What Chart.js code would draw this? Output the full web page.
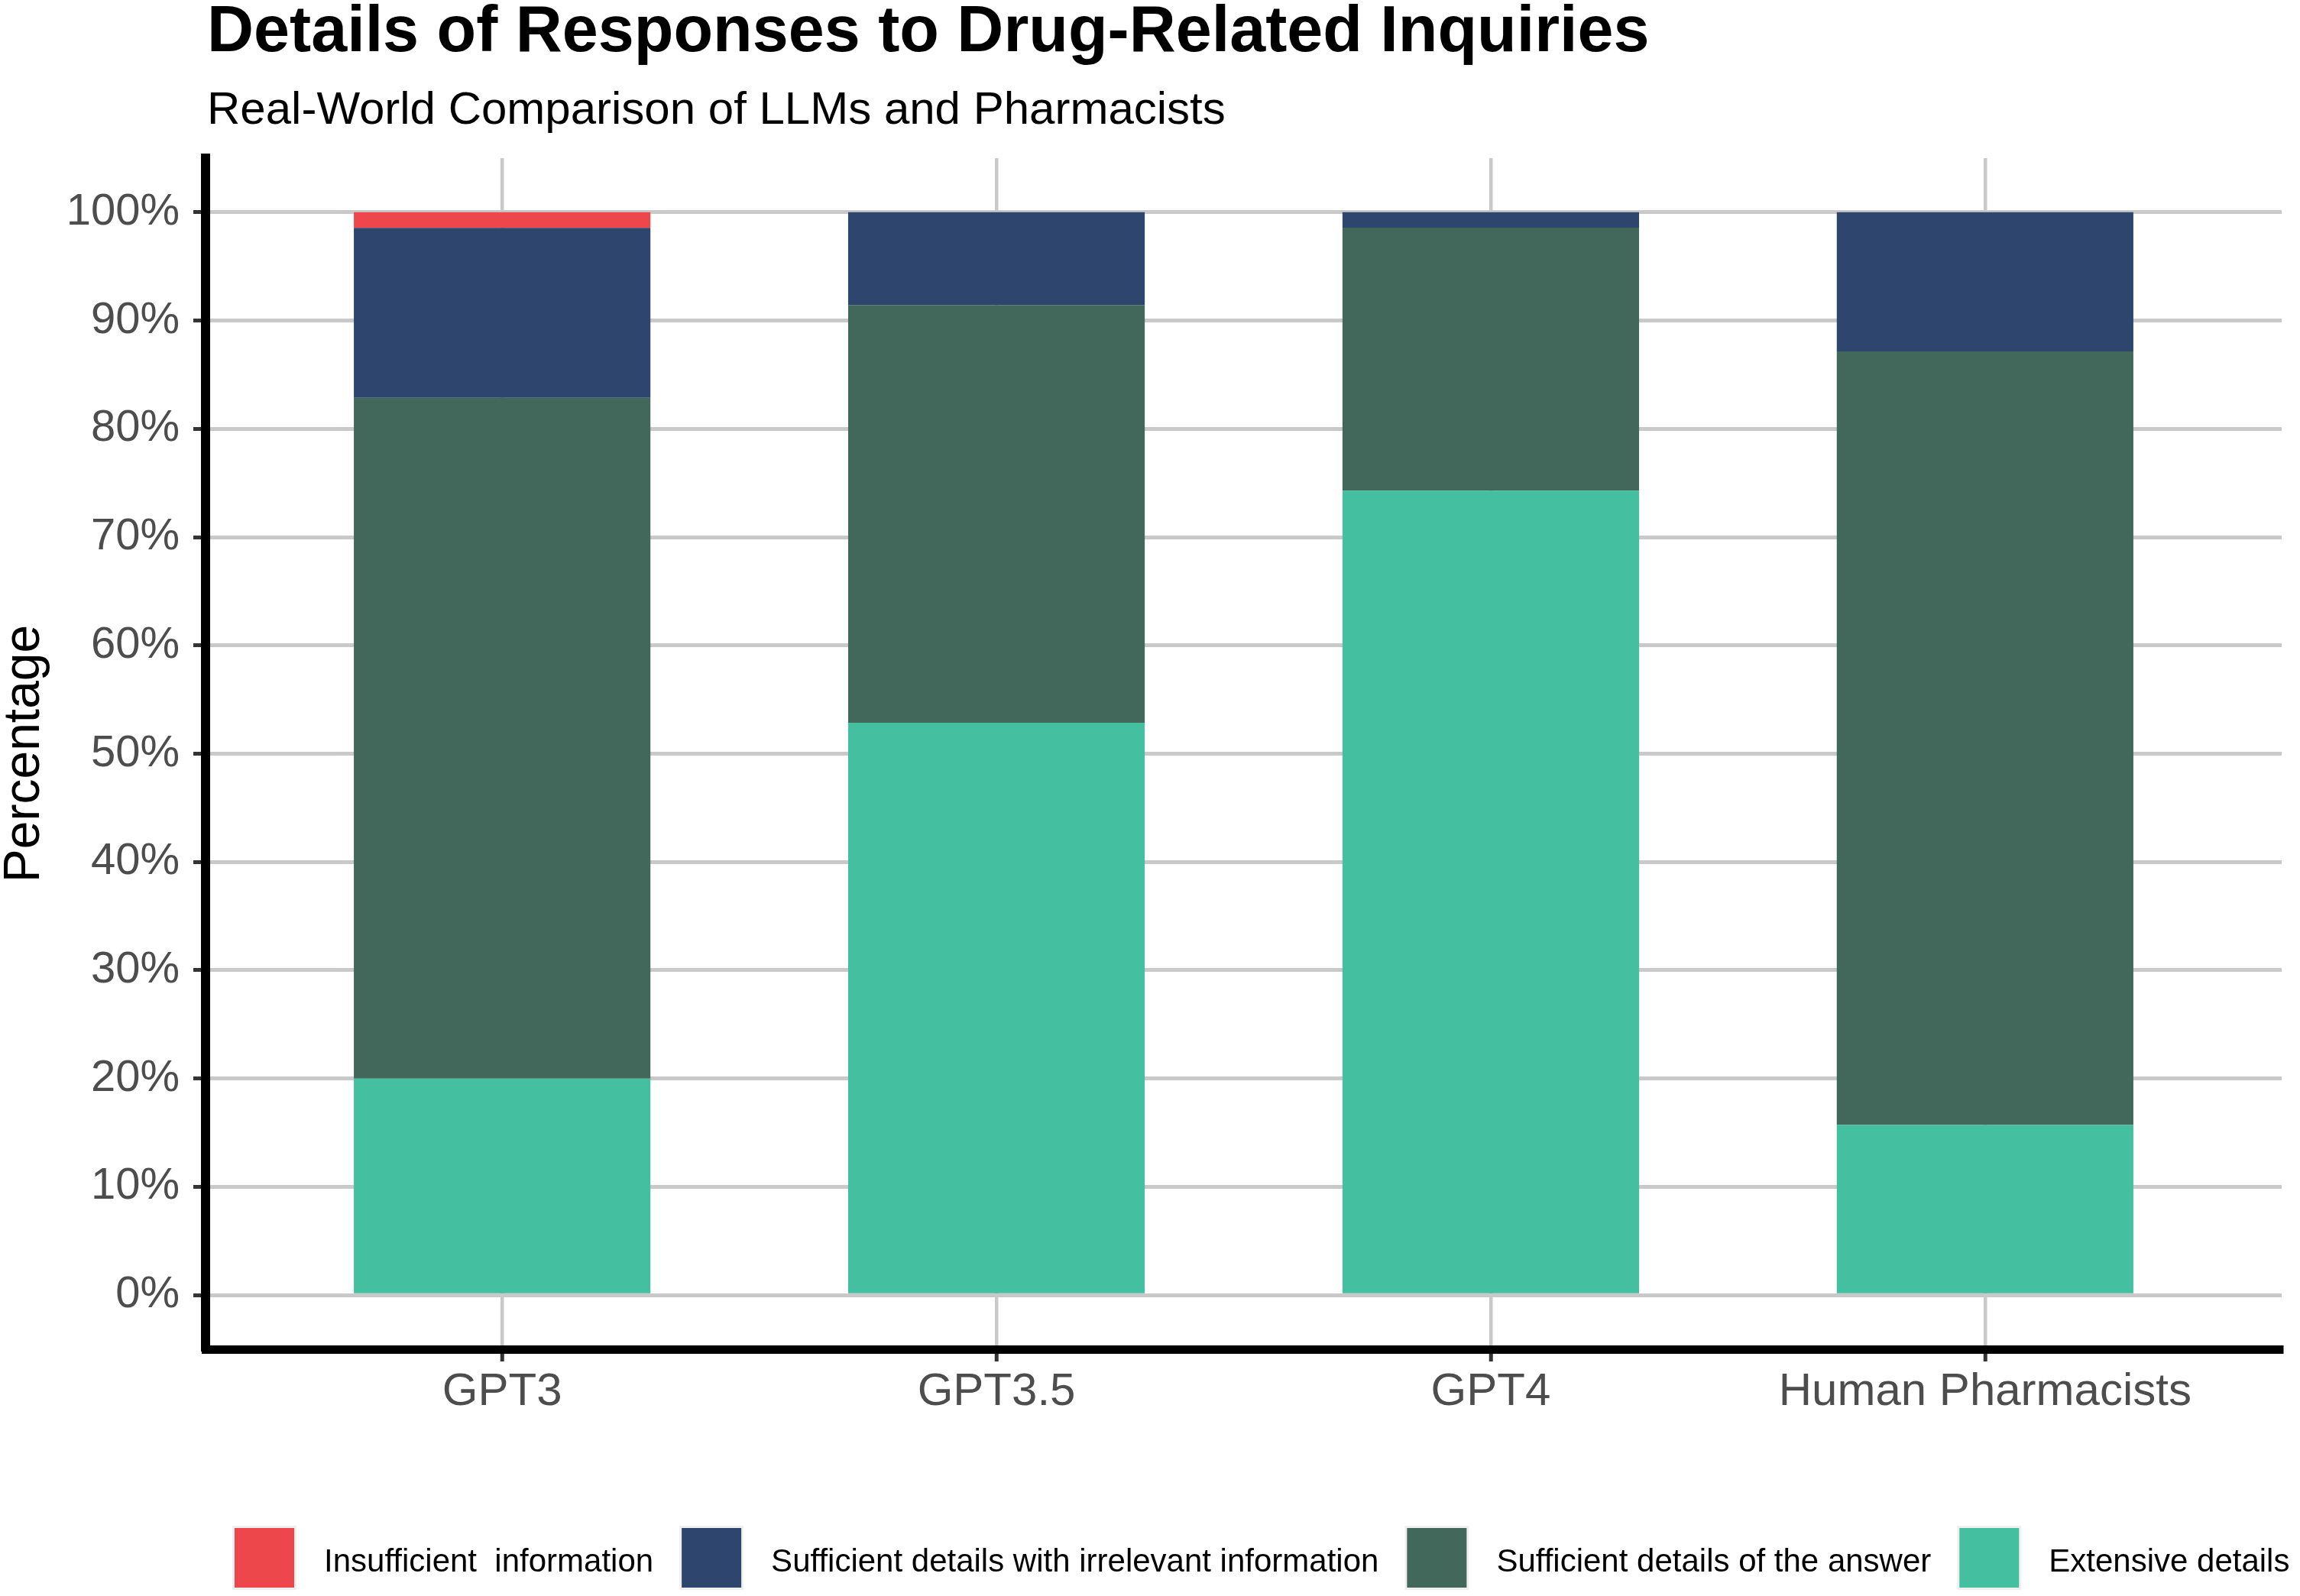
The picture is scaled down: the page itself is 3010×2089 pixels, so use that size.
<!DOCTYPE html>
<html>
<head>
<meta charset="utf-8">
<script src="https://cdn.jsdelivr.net/npm/chart.js@4.4.1/dist/chart.umd.min.js"></script>
<style>
  html, body { margin: 0; padding: 0; background: #ffffff; }
  #wrap { width: 3010px; height: 2089px; }
</style>
</head>
<body>
<div id="wrap"><canvas id="c" width="3010" height="2089"></canvas></div>
<script>
// ---- data (percent of responses) ----
const categories = ['GPT3', 'GPT3.5', 'GPT4', 'Human Pharmacists'];
const extensiveDetails = [20.00, 52.86, 74.29, 15.71];
const sufficientAnswer = [62.86, 38.57, 24.29, 71.43];
const sufficientIrrelevant = [15.71, 8.57, 1.43, 12.86];
const insufficientInfo = [1.43, 0, 0, 0];
const yTicks = [0, 10, 20, 30, 40, 50, 60, 70, 80, 90, 100];
const seriesLabels = ['Extensive details', 'Sufficient details of the answer', 'Sufficient details with irrelevant information', 'Insufficient  information'];
const titleText = 'Details of Responses to Drug-Related Inquiries';
const subtitleText = 'Real-World Comparison of LLMs and Pharmacists';
const yTitle = 'Percentage';

const colors = ['#44C0A0', '#42685C', '#2E466D', '#ED474C'];
const FONT = "'Liberation Sans', Arial, Helvetica, sans-serif";

function toPoints(arr) { return arr.map((v, i) => ({ x: i, y: v })); }

const seriesValues = [extensiveDetails, sufficientAnswer, sufficientIrrelevant, insufficientInfo];
const datasets = seriesValues.map((vals, k) => ({
  label: seriesLabels[k],
  data: toPoints(vals),
  backgroundColor: colors[k],
  borderWidth: 0,
  barPercentage: 0.6,
  categoryPercentage: 1.0
}));

const headerPlugin = {
  id: 'header',
  afterDraw(chart) {
    const ctx = chart.ctx;
    const left = chart.chartArea.left + 2;
    ctx.save();
    ctx.fillStyle = '#000000';
    ctx.textAlign = 'left';
    ctx.textBaseline = 'alphabetic';
    ctx.font = "bold 84.5px " + FONT;
    ctx.fillText(titleText, left, 67);
    ctx.font = "60px " + FONT;
    ctx.fillText(subtitleText, left, 162);
    ctx.restore();
  }
};

const legendPlugin = {
  id: 'bottomLegend',
  afterDraw(chart) {
    const ctx = chart.ctx;
    const ds = chart.data.datasets.slice().reverse();
    let x = 307;
    const boxTop = 2000, box = 78;
    ctx.save();
    ctx.font = "42px " + FONT;
    ctx.textBaseline = 'alphabetic';
    ctx.textAlign = 'left';
    ds.forEach(d => {
      ctx.fillStyle = '#f0f0f0';
      ctx.fillRect(x - 3, boxTop - 3, box + 6, box + 6);
      ctx.fillStyle = d.backgroundColor;
      ctx.fillRect(x, boxTop, box, box);
      ctx.fillStyle = '#000000';
      const tx = x + box + 39;
      ctx.fillText(d.label, tx, 2057);
      x = tx + ctx.measureText(d.label).width + 37;
    });
    ctx.restore();
  }
};

new Chart(document.getElementById('c'), {
  type: 'bar',
  data: { datasets },
  plugins: [headerPlugin, legendPlugin],
  options: {
    responsive: false,
    devicePixelRatio: 1,
    animation: false,
    layout: { padding: { left: 0, right: 24, top: 207, bottom: 0 } },
    plugins: {
      legend: { display: false },
      title: { display: false },
      tooltip: { enabled: false }
    },
    scales: {
      x: {
        type: 'linear',
        stacked: true,
        offset: false,
        min: -0.6,
        max: 3.6,
        afterBuildTicks: (s) => { s.ticks = categories.map((c, i) => ({ value: i })); },
        afterFit: (s) => { s.height = 323; },
        grid: {
          offset: false,
          color: '#c9c9c9',
          lineWidth: 4.5,
          drawTicks: true,
          tickLength: 16,
          tickColor: '#333333',
          tickWidth: 5
        },
        border: { display: true, color: '#000000', width: 11 },
        ticks: {
          callback: (v) => categories[v],
          color: '#4d4d4d',
          font: { family: FONT, size: 60 },
          padding: 4,
          maxRotation: 0,
          autoSkip: false
        }
      },
      y: {
        type: 'linear',
        stacked: true,
        min: -5,
        max: 105,
        afterBuildTicks: (s) => { s.ticks = yTicks.map(v => ({ value: v })); },
        afterFit: (s) => { s.width = 269; },
        grid: {
          color: '#c9c9c9',
          lineWidth: 5,
          drawTicks: true,
          tickLength: 16,
          tickColor: '#333333',
          tickWidth: 5
        },
        border: { display: true, color: '#000000', width: 12 },
        ticks: {
          callback: (v) => v + '%',
          color: '#4d4d4d',
          font: { family: FONT, size: 58 },
          padding: 18
        },
        title: {
          display: true,
          text: yTitle,
          color: '#000000',
          font: { family: FONT, size: 66, lineHeight: 1 },
          padding: { top: 0, bottom: 0 }
        }
      }
    }
  }
});
</script>
</body>
</html>
